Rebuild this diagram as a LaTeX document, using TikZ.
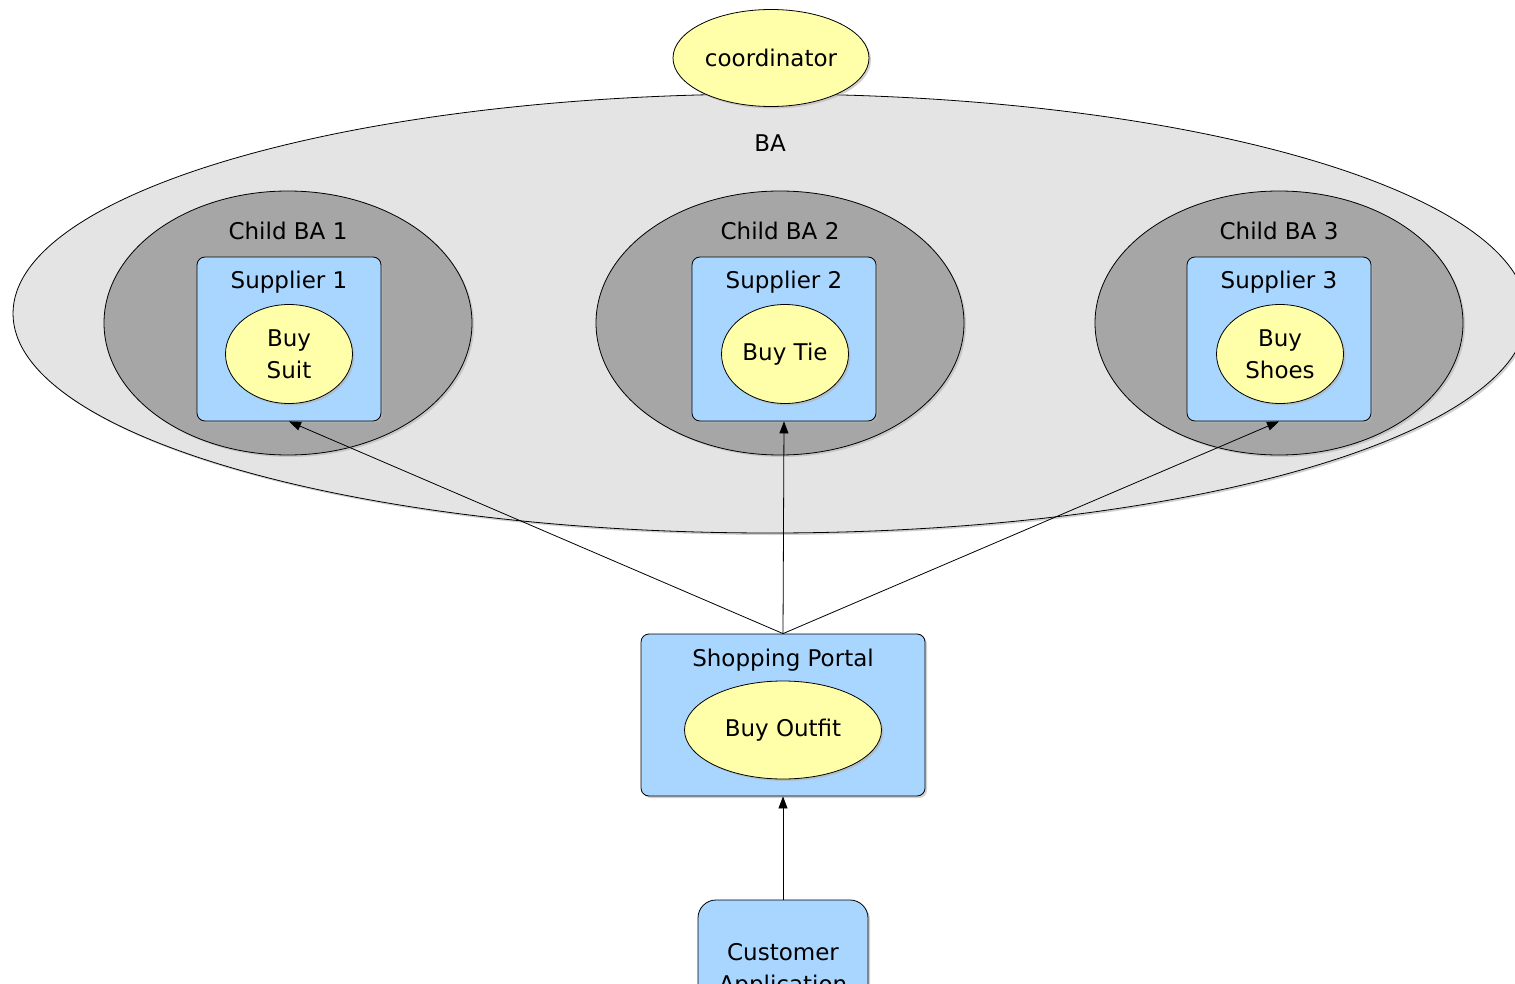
\documentclass[tikz,border=0pt]{standalone}
\usepackage{fontspec}
\setmainfont{DejaVu Sans}
\usepackage{tikz}
\usetikzlibrary{shapes.geometric, arrows.meta, shadows, positioning}
\definecolor{actyellow}{RGB}{255,255,170}
\definecolor{srvblue}{RGB}{168,214,255}
\definecolor{childgray}{RGB}{166,166,166}
\definecolor{bagray}{RGB}{228,228,228}

\begin{document}
\begin{tikzpicture}[x=0.5pt, y=-0.5pt,
  font=\fontsize{11.5}{16}\selectfont,
  softshadow/.style={drop shadow={shadow xshift=1pt, shadow yshift=-1pt, fill=black!30, opacity=0.6}},
  activity/.style={ellipse, draw=black, fill=actyellow, thin, inner sep=0pt, align=center, softshadow},
  baregion/.style={ellipse, draw=black, fill=bagray, thin, inner sep=0pt, softshadow},
  childregion/.style={ellipse, draw=black, fill=childgray, thin, inner sep=0pt, softshadow},
  service/.style={rectangle, draw=black, fill=srvblue, thin, rounded corners=4pt, inner sep=0pt, align=center, softshadow},
  arrow/.style={-{Triangle[length=6pt, width=4.5pt]}, thin}
]
\useasboundingbox (0,0) rectangle (1515,984);
\clip (0,0) rectangle (1515,984);

% --- BA oben ---
\node[baregion, minimum width=757pt, minimum height=219.5pt,
  label={[anchor=center, yshift=-25pt]north:BA}] (ba) at (770,313.5) {};
\node[activity, minimum width=98pt, minimum height=48.5pt] (coord) at (771,58) {coordinator};

% --- Child BAs ---
\node[childregion, minimum width=184pt, minimum height=132pt,
  label={[anchor=center, yshift=-20pt]north:Child BA 1}] (child1) at (288,323) {};
\node[childregion, minimum width=184pt, minimum height=132pt,
  label={[anchor=center, yshift=-20pt]north:Child BA 2}] (child2) at (780,323) {};
\node[childregion, minimum width=184pt, minimum height=132pt,
  label={[anchor=center, yshift=-20pt]north:Child BA 3}] (child3) at (1279,323) {};

% --- Supplier ---
\node[service, minimum width=92pt, minimum height=82pt,
  label={[anchor=center, yshift=-13pt]north:Supplier 1}] (sup1) at (289,339) {};
\node[service, minimum width=92pt, minimum height=82pt,
  label={[anchor=center, yshift=-13pt]north:Supplier 2}] (sup2) at (784,339) {};
\node[service, minimum width=92pt, minimum height=82pt,
  label={[anchor=center, yshift=-13pt]north:Supplier 3}] (sup3) at (1279,339) {};

\node[activity, minimum width=63.5pt, minimum height=49.5pt] (suit)  at (289,354) {Buy\\Suit};
\node[activity, minimum width=63.5pt, minimum height=49.5pt] (tie)   at (785,354) {Buy Tie};
\node[activity, minimum width=63.5pt, minimum height=49.5pt] (shoes) at (1280,354) {Buy\\Shoes};

% --- Shopping Portal + Customer ---
\node[service, minimum width=142pt, minimum height=81pt,
  label={[anchor=center, yshift=-13.5pt]north:Shopping Portal}] (portal) at (783,715) {};
\node[activity, minimum width=98.5pt, minimum height=49pt] (outfit) at (783,730) {Buy Outfit};
\node[service, rounded corners=9pt, minimum width=85pt, minimum height=70pt] (customer) at (783,970) {Customer\\Application};

% Verbindungen
\draw[arrow] (portal.north) -- (sup1.south);
\draw[arrow] (portal.north) -- (sup2.south);
\draw[arrow] (portal.north) -- (sup3.south);
\draw[arrow] (customer.north) -- (portal.south);
\end{tikzpicture}
\end{document}
